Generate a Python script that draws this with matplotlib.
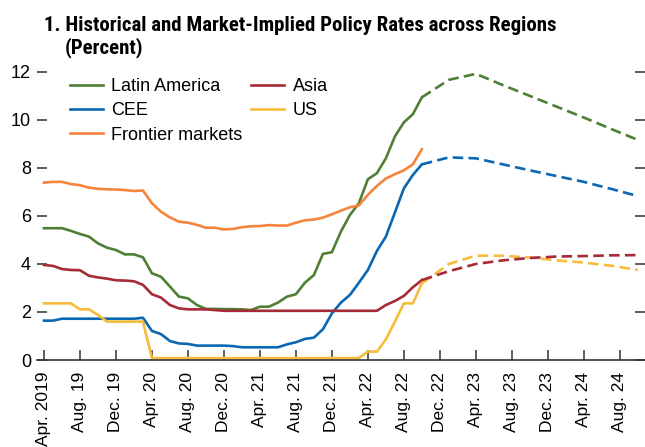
import matplotlib
matplotlib.use("Agg")
import matplotlib.pyplot as plt

plt.rcParams["font.family"] = ["Liberation Sans", "DejaVu Sans"]
TITLE_FONT = ["Roboto Condensed", "DejaVu Sans"]

# Months counted from Apr. 2019 (0) to Oct. 2022 (42) for history
hist_months = list(range(43))
proj_months = [42, 45, 48, 51, 54, 57, 60, 63, 66]

latam_hist = [5.49, 5.49, 5.49, 5.38, 5.25, 5.14, 4.86, 4.68, 4.58, 4.40, 4.40, 4.28,
              3.61, 3.47, 3.06, 2.64, 2.57, 2.29, 2.13, 2.13, 2.12, 2.12,
              2.11, 2.08, 2.22, 2.22, 2.39, 2.64, 2.74, 3.22, 3.54, 4.42, 4.49, 5.35,
              6.04, 6.53, 7.53, 7.78, 8.40, 9.31, 9.90, 10.24, 10.94]
asia_hist = [3.96, 3.92, 3.79, 3.75, 3.74, 3.51, 3.44, 3.39, 3.32, 3.31, 3.28, 3.13,
             2.74, 2.60, 2.29, 2.15, 2.11, 2.11, 2.11, 2.08, 2.05, 2.05,
             2.05, 2.05, 2.05, 2.05, 2.05, 2.05, 2.05, 2.05, 2.05, 2.05, 2.05, 2.05,
             2.05, 2.05, 2.05, 2.05, 2.29, 2.46, 2.67, 3.03, 3.33]
cee_hist = [1.64, 1.64, 1.72, 1.72, 1.72, 1.72, 1.72, 1.72, 1.72, 1.72, 1.72, 1.76,
            1.21, 1.08, 0.79, 0.69, 0.67, 0.60, 0.60, 0.60, 0.60, 0.58,
            0.53, 0.53, 0.53, 0.53, 0.53, 0.65, 0.74, 0.88, 0.93, 1.28, 1.94, 2.39,
            2.71, 3.22, 3.75, 4.54, 5.14, 6.14, 7.15, 7.71, 8.15]
us_hist = [2.36, 2.36, 2.36, 2.36, 2.11, 2.11, 1.88, 1.60, 1.60, 1.60, 1.60, 1.60,
           0.08, 0.08, 0.08, 0.08, 0.08, 0.08, 0.08, 0.08, 0.08, 0.08,
           0.08, 0.08, 0.08, 0.08, 0.08, 0.08, 0.08, 0.08, 0.08, 0.08, 0.08, 0.08,
           0.08, 0.08, 0.35, 0.35, 0.86, 1.60, 2.36, 2.36, 3.19]
frontier_hist = [7.39, 7.42, 7.42, 7.33, 7.28, 7.18, 7.13, 7.11, 7.10, 7.08, 7.04, 7.06,
                 6.53, 6.18, 5.94, 5.76, 5.72, 5.63, 5.51, 5.51, 5.44, 5.46,
                 5.53, 5.57, 5.58, 5.62, 5.60, 5.60, 5.72, 5.82, 5.85, 5.93, 6.07, 6.22,
                 6.36, 6.44, 6.88, 7.25, 7.56, 7.74, 7.90, 8.15, 8.78]

# Market-implied paths
latam_proj = [10.94, 11.67, 11.92, 11.45, 11.00, 10.55, 10.10, 9.63, 9.17]
asia_proj = [3.33, 3.70, 4.00, 4.15, 4.25, 4.31, 4.33, 4.36, 4.37]
cee_proj = [8.15, 8.44, 8.40, 8.15, 7.90, 7.66, 7.42, 7.13, 6.83]
us_proj = [3.19, 4.00, 4.35, 4.34, 4.27, 4.15, 4.06, 3.93, 3.75]

tick_months = list(range(0, 65, 4))
tick_labels = ["Apr. 2019", "Aug. 19", "Dec. 19", "Apr. 20", "Aug. 20", "Dec. 20",
               "Apr. 21", "Aug. 21", "Dec. 21", "Apr. 22", "Aug. 22", "Dec. 22",
               "Apr. 23", "Aug. 23", "Dec. 23", "Apr. 24", "Aug. 24"]

GREEN = "#4F7F35"
RED = "#A62A37"
BLUE = "#0B67B2"
YELLOW = "#F6BC3B"
ORANGE = "#F6843B"

fig = plt.figure(figsize=(6.45, 4.47), dpi=100)
ax = fig.add_axes([0.0566, 0.1946, 0.9434, 0.666])

lw = 1.9
ax.plot(hist_months, latam_hist, color=GREEN, lw=lw, label="Latin America")
ax.plot(hist_months, cee_hist, color=BLUE, lw=lw, label="CEE")
ax.plot(hist_months, frontier_hist, color=ORANGE, lw=lw, label="Frontier markets")
ax.plot(hist_months, asia_hist, color=RED, lw=lw, label="Asia")
ax.plot(hist_months, us_hist, color=YELLOW, lw=lw, label="US")

dash = (4, 2)
ax.plot(proj_months, latam_proj, color=GREEN, lw=lw, dashes=dash)
ax.plot(proj_months, cee_proj, color=BLUE, lw=lw, dashes=dash)
ax.plot(proj_months, us_proj, color=YELLOW, lw=lw, dashes=dash)
ax.plot(proj_months, asia_proj, color=RED, lw=lw, dashes=dash)

ax.set_xlim(-0.83, 66.8)
ax.set_ylim(0, 12.4)

for side in ("top", "left", "right"):
    ax.spines[side].set_visible(False)
ax.spines["bottom"].set_color("#333333")
ax.spines["bottom"].set_linewidth(1.2)

ax.set_xticks(tick_months)
ax.set_xticklabels(tick_labels, rotation=90, va="top")
ax.set_yticks(range(0, 13, 2))
ax.tick_params(axis="x", direction="in", length=7, width=1.1, color="#333333",
               pad=8.5, labelsize=12.5)
ax.tick_params(axis="y", direction="in", length=7, width=1.1, color="#333333",
               pad=4, labelsize=13, right=True)

ax.legend(loc="upper left", bbox_to_anchor=(0.055, 0.947), ncol=2, frameon=False,
          fontsize=13, handlelength=1.83, handletextpad=0.45, columnspacing=0.5,
          labelspacing=0.4, borderpad=0, borderaxespad=0)

fig.text(0.068, 0.9306, "1. Historical and Market-Implied Policy Rates across Regions",
         family=TITLE_FONT, fontsize=15, fontweight="bold", va="baseline", ha="left")
fig.text(0.1, 0.8814, "(Percent)", family=TITLE_FONT, fontsize=15, fontweight="bold",
         va="baseline", ha="left")

fig.savefig("out.png", dpi=100)
